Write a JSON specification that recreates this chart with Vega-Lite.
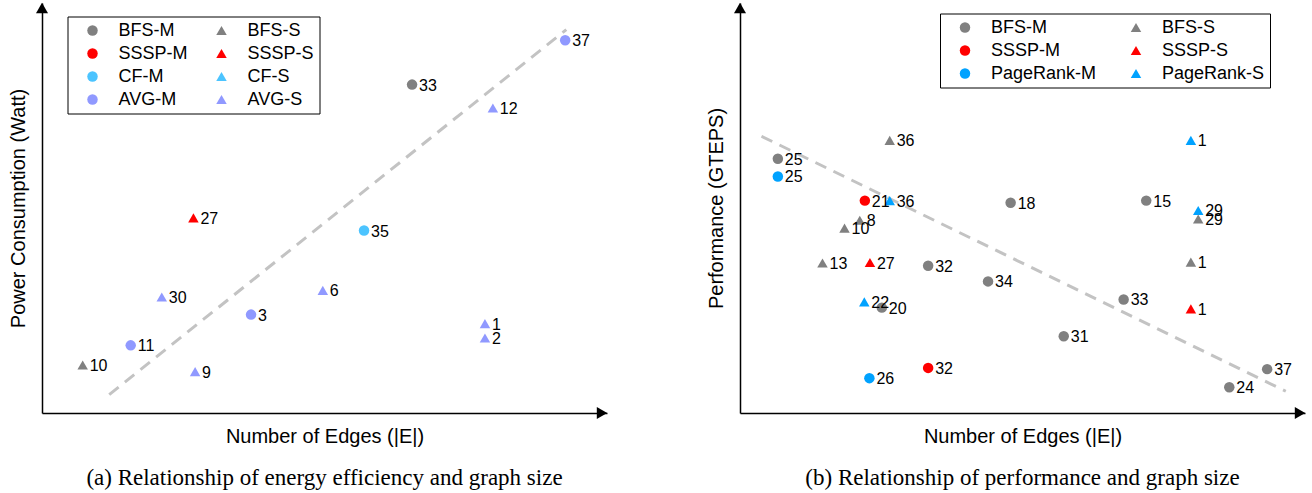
{
  "$schema": "https://vega.github.io/schema/vega-lite/v6.json",
  "padding": {"left": 8, "top": 2, "right": 0, "bottom": 0},
  "bounds": "flush",
  "spacing": 133,
  "datasets": {
    "energy": [
      {"id": "37", "series": "AVG-M", "edges": 92.6, "value": 90.9},
      {"id": "33", "series": "BFS-M", "edges": 65.5, "value": 80.1},
      {"id": "12", "series": "AVG-S", "edges": 79.8, "value": 74.4},
      {"id": "27", "series": "SSSP-S", "edges": 26.8, "value": 47.6},
      {"id": "35", "series": "CF-M", "edges": 57.0, "value": 44.5},
      {"id": "6", "series": "AVG-S", "edges": 49.7, "value": 29.9},
      {"id": "30", "series": "AVG-S", "edges": 21.2, "value": 28.3},
      {"id": "3", "series": "AVG-M", "edges": 37.0, "value": 24.0},
      {"id": "1", "series": "AVG-S", "edges": 78.4, "value": 21.8},
      {"id": "2", "series": "AVG-S", "edges": 78.4, "value": 18.3},
      {"id": "11", "series": "AVG-M", "edges": 15.7, "value": 16.5},
      {"id": "10", "series": "BFS-S", "edges": 7.2, "value": 11.7},
      {"id": "9", "series": "AVG-S", "edges": 27.1, "value": 10.1}
    ],
    "energy_trend": [
      {"edges": 11.9, "value": 4.5},
      {"edges": 92.8, "value": 93.5}
    ],
    "perf": [
      {"id": "36", "series": "BFS-S", "edges": 26.5, "value": 66.5},
      {"id": "1", "series": "PageRank-S", "edges": 79.8, "value": 66.5},
      {"id": "25", "series": "BFS-M", "edges": 6.7, "value": 62.0},
      {"id": "25", "series": "PageRank-M", "edges": 6.7, "value": 57.7},
      {"id": "21", "series": "SSSP-M", "edges": 22.1, "value": 51.8},
      {"id": "36", "series": "PageRank-S", "edges": 26.5, "value": 51.8},
      {"id": "18", "series": "BFS-M", "edges": 47.9, "value": 51.3},
      {"id": "15", "series": "BFS-M", "edges": 71.9, "value": 51.8},
      {"id": "29", "series": "PageRank-S", "edges": 81.1, "value": 49.4},
      {"id": "29", "series": "BFS-S", "edges": 81.1, "value": 47.3},
      {"id": "8", "series": "BFS-S", "edges": 21.2, "value": 47.0},
      {"id": "10", "series": "BFS-S", "edges": 18.5, "value": 45.1},
      {"id": "13", "series": "BFS-S", "edges": 14.6, "value": 36.6},
      {"id": "27", "series": "SSSP-S", "edges": 23.0, "value": 36.7},
      {"id": "32", "series": "BFS-M", "edges": 33.3, "value": 35.9},
      {"id": "1", "series": "BFS-S", "edges": 79.8, "value": 36.8},
      {"id": "34", "series": "BFS-M", "edges": 43.9, "value": 32.1},
      {"id": "33", "series": "BFS-M", "edges": 67.9, "value": 27.7},
      {"id": "22", "series": "PageRank-S", "edges": 22.0, "value": 27.1},
      {"id": "20", "series": "BFS-M", "edges": 25.1, "value": 25.7},
      {"id": "1", "series": "SSSP-S", "edges": 79.8, "value": 25.4},
      {"id": "31", "series": "BFS-M", "edges": 57.3, "value": 18.7},
      {"id": "32", "series": "SSSP-M", "edges": 33.3, "value": 11.0},
      {"id": "37", "series": "BFS-M", "edges": 93.3, "value": 10.7},
      {"id": "26", "series": "PageRank-M", "edges": 22.9, "value": 8.5},
      {"id": "24", "series": "BFS-M", "edges": 86.6, "value": 6.3}
    ],
    "perf_trend": [
      {"edges": 3.8, "value": 67.5},
      {"edges": 96.6, "value": 5.3}
    ],
    "y_tip": [{"edges": 0, "value": 100}],
    "x_tip": [{"edges": 100, "value": 0}]
  },
  "resolve": {
    "scale": {"color": "independent", "shape": "independent", "x": "independent", "y": "independent"},
    "legend": {"color": "independent", "shape": "independent"}
  },
  "hconcat": [
    {
      "width": 565,
      "height": 410,
      "title": {
        "text": "(a) Relationship of energy efficiency and graph size",
        "orient": "bottom",
        "anchor": "middle",
        "font": "Liberation Serif",
        "fontSize": 23,
        "fontWeight": "normal",
        "color": "black",
        "offset": 21
      },
      "encoding": {
        "x": {
          "field": "edges",
          "type": "quantitative",
          "title": "Number of Edges (|E|)",
          "scale": {"domain": [0, 100], "nice": false}
        },
        "y": {
          "field": "value",
          "type": "quantitative",
          "title": "Power Consumption (Watt)",
          "scale": {"domain": [0, 100], "nice": false}
        }
      },
      "layer": [
        {
          "data": {"name": "energy_trend"},
          "mark": {"type": "line", "color": "#c3c3c3", "strokeWidth": 3, "strokeDash": [12, 8]}
        },
        {
          "data": {"name": "energy"},
          "mark": {"type": "point", "filled": true, "opacity": 1, "size": 110},
          "encoding": {
            "color": {
              "field": "series",
              "type": "nominal",
              "scale": {
                "domain": ["BFS-M", "SSSP-M", "CF-M", "AVG-M", "BFS-S", "SSSP-S", "CF-S", "AVG-S"],
                "range": ["#808080", "#ff0000", "#4cc4ff", "#9099ff", "#808080", "#ff0000", "#4cc4ff", "#9099ff"]
              },
              "legend": {
                "orient": "none",
                "legendX": 25.5,
                "legendY": 13.5,
                "columns": 2,
                "columnPadding": 13,
                "title": null,
                "strokeColor": "black",
                "fillColor": "white",
                "padding": 5,
                "symbolOffset": 11,
                "labelOffset": 17,
                "rowPadding": 5
              }
            },
            "shape": {
              "field": "series",
              "type": "nominal",
              "scale": {
                "domain": ["BFS-M", "SSSP-M", "CF-M", "AVG-M", "BFS-S", "SSSP-S", "CF-S", "AVG-S"],
                "range": ["circle", "circle", "circle", "circle", "triangle-up", "triangle-up", "triangle-up", "triangle-up"]
              },
              "legend": null
            }
          }
        },
        {
          "data": {"name": "energy"},
          "mark": {"type": "text", "align": "left", "baseline": "middle", "dx": 7, "dy": 1, "fontSize": 16, "color": "black"},
          "encoding": {"text": {"field": "id"}}
        },
        {
          "data": {"name": "y_tip"},
          "mark": {"type": "point", "shape": "triangle-up", "filled": true, "color": "black", "opacity": 1, "size": 144, "yOffset": 5}
        },
        {
          "data": {"name": "x_tip"},
          "mark": {"type": "point", "shape": "triangle-right", "filled": true, "color": "black", "opacity": 1, "size": 144, "xOffset": -5}
        }
      ]
    },
    {
      "width": 565,
      "height": 410,
      "title": {
        "text": "(b) Relationship of performance and graph size",
        "orient": "bottom",
        "anchor": "middle",
        "font": "Liberation Serif",
        "fontSize": 23,
        "fontWeight": "normal",
        "color": "black",
        "offset": 21
      },
      "encoding": {
        "x": {
          "field": "edges",
          "type": "quantitative",
          "title": "Number of Edges (|E|)",
          "scale": {"domain": [0, 100], "nice": false}
        },
        "y": {
          "field": "value",
          "type": "quantitative",
          "title": "Performance (GTEPS)",
          "scale": {"domain": [0, 100], "nice": false}
        }
      },
      "layer": [
        {
          "data": {"name": "perf_trend"},
          "mark": {"type": "line", "color": "#c3c3c3", "strokeWidth": 3, "strokeDash": [12, 8]}
        },
        {
          "data": {"name": "perf"},
          "mark": {"type": "point", "filled": true, "opacity": 1, "size": 110},
          "encoding": {
            "color": {
              "field": "series",
              "type": "nominal",
              "scale": {
                "domain": ["BFS-M", "SSSP-M", "PageRank-M", "BFS-S", "SSSP-S", "PageRank-S"],
                "range": ["#808080", "#ff0000", "#00a2ff", "#808080", "#ff0000", "#00a2ff"]
              },
              "legend": {
                "orient": "none",
                "legendX": 200,
                "legendY": 10.5,
                "columns": 2,
                "columnPadding": 19,
                "title": null,
                "strokeColor": "black",
                "fillColor": "white",
                "padding": 5,
                "symbolOffset": 11,
                "labelOffset": 17,
                "rowPadding": 5
              }
            },
            "shape": {
              "field": "series",
              "type": "nominal",
              "scale": {
                "domain": ["BFS-M", "SSSP-M", "PageRank-M", "BFS-S", "SSSP-S", "PageRank-S"],
                "range": ["circle", "circle", "circle", "triangle-up", "triangle-up", "triangle-up"]
              },
              "legend": null
            }
          }
        },
        {
          "data": {"name": "perf"},
          "mark": {"type": "text", "align": "left", "baseline": "middle", "dx": 7, "dy": 1, "fontSize": 16, "color": "black"},
          "encoding": {"text": {"field": "id"}}
        },
        {
          "data": {"name": "y_tip"},
          "mark": {"type": "point", "shape": "triangle-up", "filled": true, "color": "black", "opacity": 1, "size": 144, "yOffset": 5}
        },
        {
          "data": {"name": "x_tip"},
          "mark": {"type": "point", "shape": "triangle-right", "filled": true, "color": "black", "opacity": 1, "size": 144, "xOffset": -5}
        }
      ]
    }
  ],
  "config": {
    "font": "Liberation Sans",
    "view": {"stroke": null},
    "axis": {
      "domainColor": "black",
      "domainWidth": 1.5,
      "ticks": false,
      "labels": false,
      "grid": false,
      "titleFont": "Liberation Sans",
      "titleFontSize": 20,
      "titleFontWeight": "normal",
      "titleColor": "black"
    },
    "axisX": {"titlePadding": 13},
    "axisY": {"titlePadding": 14},
    "legend": {
      "labelFont": "Liberation Sans",
      "labelFontSize": 18,
      "labelColor": "black",
      "symbolSize": 110,
      "symbolStrokeWidth": 0
    }
  }
}
